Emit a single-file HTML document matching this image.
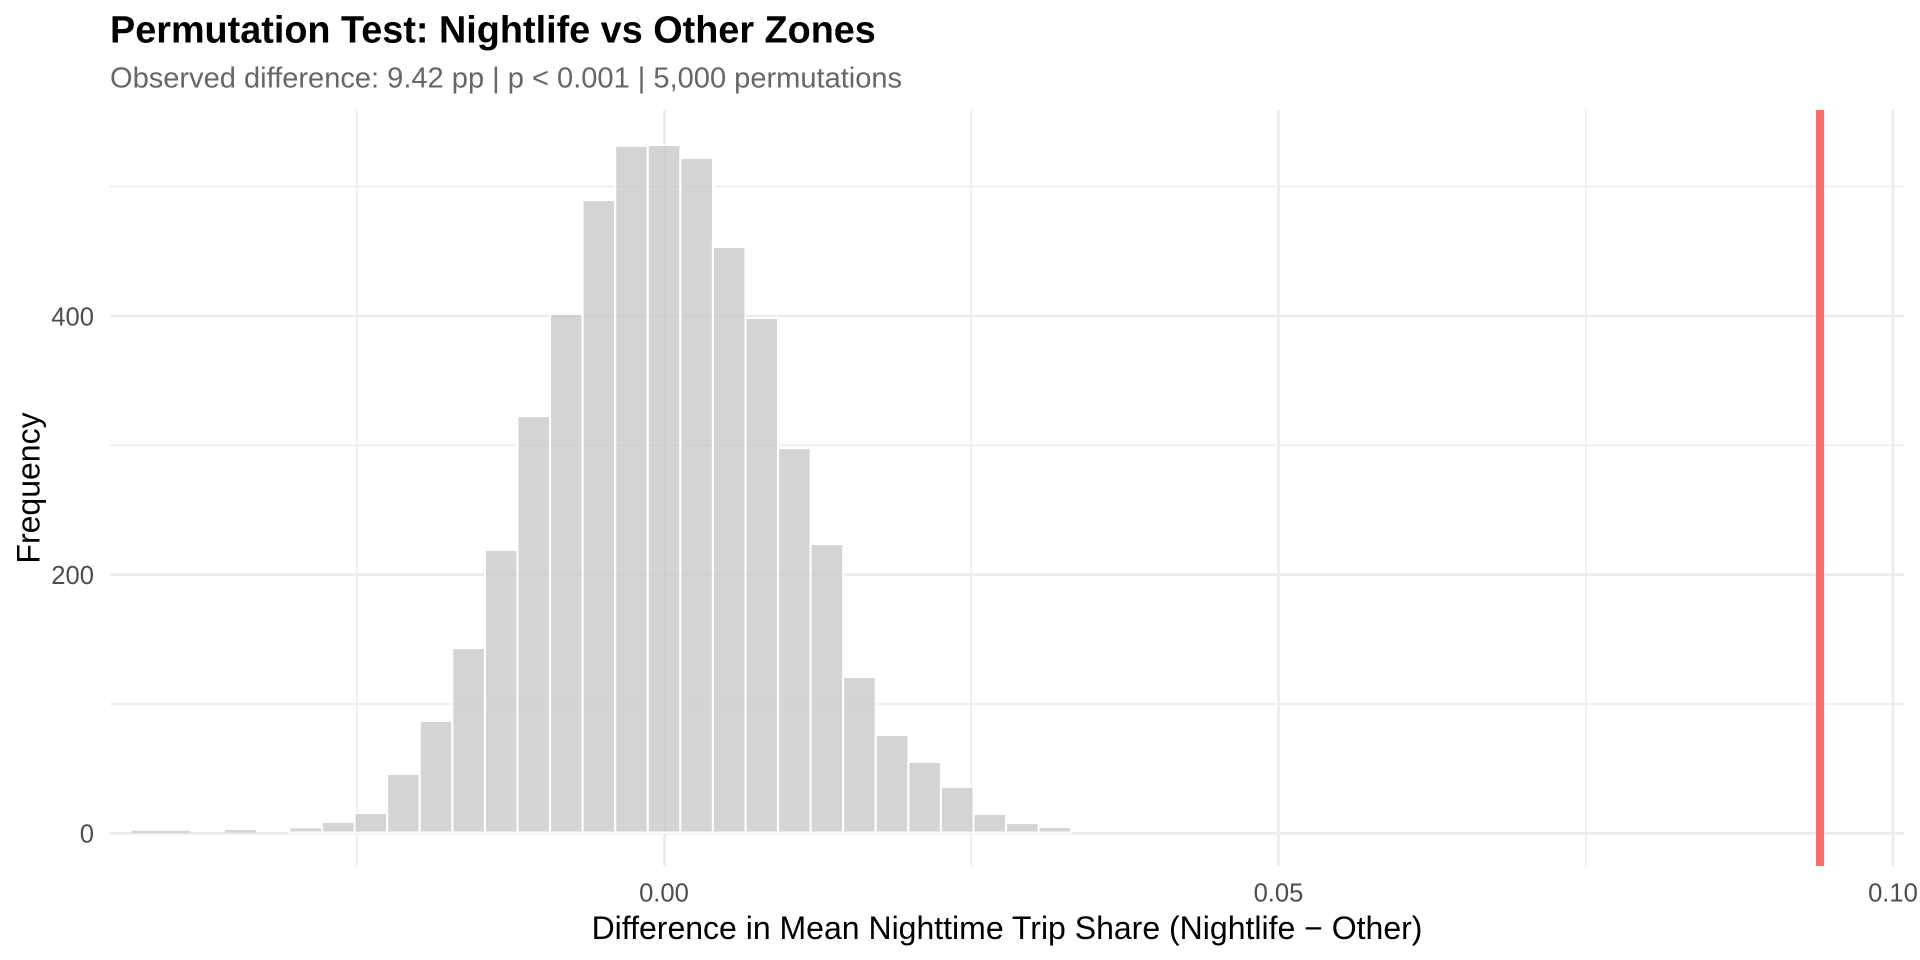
<!DOCTYPE html>
<html>
<head>
<meta charset="utf-8">
<style>
  html, body { margin: 0; padding: 0; background: #ffffff; }
  svg { display: block; }
  text { font-family: "Liberation Sans", Arial, sans-serif; }
</style>
</head>
<body>
<svg width="1920" height="960" viewBox="0 0 1920 960" xmlns="http://www.w3.org/2000/svg">
  <rect x="0" y="0" width="1920" height="960" fill="#ffffff"/>

  <!-- minor gridlines -->
  <g stroke="#EBEBEB" stroke-width="1.4">
    <line x1="110" y1="704" x2="1904" y2="704"/>
    <line x1="110" y1="445.3" x2="1904" y2="445.3"/>
    <line x1="110" y1="186.6" x2="1904" y2="186.6"/>
    <line x1="356.8" y1="110" x2="356.8" y2="866"/>
    <line x1="971.3" y1="110" x2="971.3" y2="866"/>
    <line x1="1585.8" y1="110" x2="1585.8" y2="866"/>
  </g>
  <!-- major gridlines -->
  <g stroke="#EBEBEB" stroke-width="2.6">
    <line x1="110" y1="833.3" x2="1904" y2="833.3"/>
    <line x1="110" y1="574.6" x2="1904" y2="574.6"/>
    <line x1="110" y1="316" x2="1904" y2="316"/>
    <line x1="664.5" y1="110" x2="664.5" y2="866"/>
    <line x1="1278.5" y1="110" x2="1278.5" y2="866"/>
    <line x1="1893" y1="110" x2="1893" y2="866"/>
  </g>

  <!-- tiny tail bars -->
  <rect x="132" y="830.8" width="58" height="2" fill="rgba(195,195,195,0.72)"/>
  <rect x="225" y="830" width="31" height="2.6" fill="rgba(195,195,195,0.72)"/>

  <!-- histogram bars -->
  <g fill="rgba(195,195,195,0.72)" stroke="#ffffff" stroke-width="2">
    <rect x="289.5" y="827.3" width="32.57" height="5.2"/>
    <rect x="322.07" y="822" width="32.57" height="10.5"/>
    <rect x="354.64" y="813" width="32.57" height="19.5"/>
    <rect x="387.21" y="774" width="32.57" height="58.5"/>
    <rect x="419.78" y="721" width="32.57" height="111.5"/>
    <rect x="452.35" y="648" width="32.57" height="184.5"/>
    <rect x="484.92" y="550" width="32.57" height="282.5"/>
    <rect x="517.49" y="416" width="32.57" height="416.5"/>
    <rect x="550.06" y="314" width="32.57" height="518.5"/>
    <rect x="582.63" y="200" width="32.57" height="632.5"/>
    <rect x="615.2" y="146" width="32.57" height="686.5"/>
    <rect x="647.77" y="145" width="32.57" height="687.5"/>
    <rect x="680.34" y="158" width="32.57" height="674.5"/>
    <rect x="712.91" y="247" width="32.57" height="585.5"/>
    <rect x="745.48" y="318" width="32.57" height="514.5"/>
    <rect x="778.05" y="448" width="32.57" height="384.5"/>
    <rect x="810.62" y="544" width="32.57" height="288.5"/>
    <rect x="843.19" y="677" width="32.57" height="155.5"/>
    <rect x="875.76" y="735" width="32.57" height="97.5"/>
    <rect x="908.33" y="762" width="32.57" height="70.5"/>
    <rect x="940.9" y="787" width="32.57" height="45.5"/>
    <rect x="973.47" y="814" width="32.57" height="18.5"/>
    <rect x="1006.04" y="823" width="32.57" height="9.5"/>
    <rect x="1038.61" y="827" width="32.57" height="5.5"/>
  </g>

  <!-- observed difference line -->
  <rect x="1816" y="110" width="8" height="756" fill="#FF6B6B"/>

  <!-- title & subtitle -->
  <text x="110" y="42.5" font-size="37.8" font-weight="bold" fill="#000000">Permutation Test: Nightlife vs Other Zones</text>
  <text x="110" y="87.5" font-size="29.05" fill="#666666">Observed difference: 9.42 pp | p &lt; 0.001 | 5,000 permutations</text>

  <!-- y axis tick labels -->
  <text x="94" y="842.5" font-size="25.6" fill="#4D4D4D" text-anchor="end">0</text>
  <text x="94" y="583.8" font-size="25.6" fill="#4D4D4D" text-anchor="end">200</text>
  <text x="94" y="325.5" font-size="25.6" fill="#4D4D4D" text-anchor="end">400</text>

  <!-- x axis tick labels -->
  <text x="664" y="901.7" font-size="25.6" fill="#4D4D4D" text-anchor="middle">0.00</text>
  <text x="1278.5" y="901.7" font-size="25.6" fill="#4D4D4D" text-anchor="middle">0.05</text>
  <text x="1893" y="901.7" font-size="25.6" fill="#4D4D4D" text-anchor="middle">0.10</text>

  <!-- axis titles -->
  <text x="1007" y="939" font-size="32" fill="#000000" text-anchor="middle">Difference in Mean Nighttime Trip Share (Nightlife − Other)</text>
  <text x="0" y="0" font-size="32" fill="#000000" text-anchor="middle" transform="translate(39.7,488) rotate(-90)">Frequency</text>
</svg>
</body>
</html>
